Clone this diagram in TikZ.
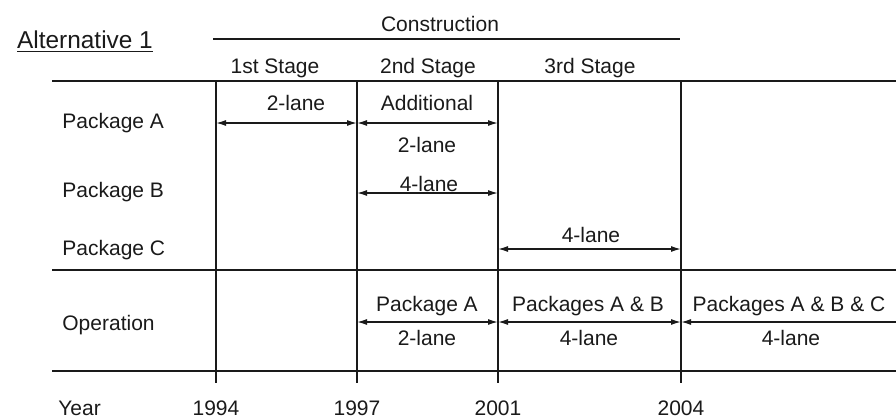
\documentclass[tikz,border=0pt]{standalone}
\usepackage{fontspec}
\setmainfont{Liberation Sans}
\usetikzlibrary{arrows.meta,positioning,calc}
\definecolor{Ink}{HTML}{1A1A1A}

\begin{document}
\begin{tikzpicture}[x=0.5pt,y=-0.5pt,
    every node/.style={font=\fontsize{10.5}{12}\selectfont,text=Ink,inner sep=1pt},
    grid/.style={Ink,line width=1.2pt},
    span/.style={Ink,line width=0.7pt,{Latex[length=5pt,width=3pt]}-{Latex[length=5pt,width=3pt]}},
    spanl/.style={Ink,line width=0.7pt,{Latex[length=5pt,width=3pt]}-}]
  \useasboundingbox (0,0) rectangle (896,418);

  \foreach \r/\yy in {pa/123,pb/193,pc/249,op/322}
    \foreach \c/\xx in {1/216,2/357,3/498,4/681,5/896}
      \coordinate (\r\c) at (\xx,\yy);

  \node[font=\fontsize{12.2}{14}\selectfont] (alt) at (85,42) {\underline{Alternative 1}};
  \node (constr) at (440,24) {Construction};
  \draw[Ink,line width=0.9pt] (213,39) -- (680,39);
  \node (st1) at (275,68) {1st Stage};
  \node (st2) at (428,68) {2nd Stage};
  \node (st3) at (590,68) {3rd Stage};

  \draw[grid] (52,81) -- (896,81);
  \draw[grid] (52,270) -- (896,270);
  \draw[grid] (52,371) -- (896,371);

  \node[anchor=west] (pkA) at (60,123) {Package A};
  \node[anchor=west] (pkB) at (60,192) {Package B};
  \node[anchor=west] (pkC) at (60,250) {Package C};
  \node[anchor=west] (oper) at (60,325) {Operation};
  \node[anchor=west] (year) at (56,408) {Year};

  \foreach \n/\xx in {1994/216,1997/357,2001/498,2004/681} {
    \node (y\n) at (\xx,408) {\n};
    \draw[grid] (\xx,81) -- (\xx,383);
  }

  \draw[span] (pa1) -- (pa2);
  \node (la1) at (296,103) {2-lane};
  \draw[span] (pa2) -- (pa3);
  \node (la2) at (427,103) {Additional};
  \node (la3) at (427,145) {2-lane};

  \draw[span] (pb2) -- (pb3);
  \node (lb1) at (429,184) {4-lane};

  \draw[span] (pc3) -- (pc4);
  \node (lc1) at (591,235) {4-lane};

  \draw[span] (op2) -- (op3);
  \node (lo1) at (427,306) {Package A};
  \node (lo2) at (427,338) {2-lane};
  \draw[span] (op3) -- (op4);
  \node (lo3) at (588,306) {Packages A \& B};
  \node (lo4) at (589,338) {4-lane};
  \draw[spanl] (op4) -- (op5);
  \node (lo5) at (789,306) {Packages A \& B \& C};
  \node (lo6) at (791,338) {4-lane};
\end{tikzpicture}
\end{document}
